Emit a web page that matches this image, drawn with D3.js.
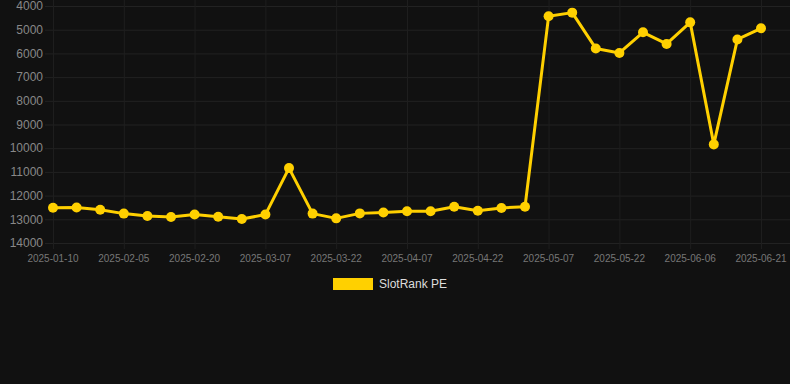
<!DOCTYPE html>
<html lang="en">
<head>
    <meta charset="UTF-8">
    <title>SlotRank PE</title>
    <script src="https://d3js.org/d3.v7.min.js"></script>
    <style>
        html, body { margin: 0; padding: 0; background: #111111; }
        svg { display: block; font-family: "Liberation Sans", Arial, sans-serif; }
    </style>
</head>
<body>
    <div id="chart"></div>
    <script>
        // categories (dates) and rank values
        var dates = [
            "2025-01-10", "2025-01-18", "2025-01-27", "2025-02-05", "2025-02-10", "2025-02-15",
            "2025-02-20", "2025-02-25", "2025-03-02", "2025-03-07", "2025-03-12", "2025-03-17",
            "2025-03-22", "2025-03-27", "2025-04-02", "2025-04-07", "2025-04-12", "2025-04-17",
            "2025-04-22", "2025-04-27", "2025-05-02", "2025-05-07", "2025-05-12", "2025-05-17",
            "2025-05-22", "2025-05-27", "2025-06-01", "2025-06-06", "2025-06-11", "2025-06-16",
            "2025-06-21"
        ];
        var rankValues = [
            12510, 12500, 12600, 12760, 12860, 12900,
            12800, 12890, 12990, 12800, 10840, 12760,
            12960, 12750, 12710, 12660, 12660, 12470,
            12640, 12520, 12470, 4435, 4280, 5790,
            5980, 5110, 5600, 4690, 9840, 5410,
            4940
        ];
        var yTicks = [4000, 5000, 6000, 7000, 8000, 9000, 10000, 11000, 12000, 13000, 14000];
        var seriesName = "SlotRank PE";

        var width = 790, height = 384;
        var gridLeft = 45, gridRight = 790;

        var svg = d3.select("#chart").append("svg")
            .attr("width", width)
            .attr("height", height);

        svg.append("rect")
            .attr("width", width)
            .attr("height", height)
            .attr("fill", "#111111");

        var x = d3.scalePoint()
            .domain(dates)
            .range([53, 761]);

        // reversed: better rank on top
        var y = d3.scaleLinear()
            .domain([4000, 14000])
            .range([6, 243]);

        var shownDates = dates.filter(function (d, i) { return i % 3 === 0; });

        // horizontal grid
        svg.append("g")
            .selectAll("line")
            .data(yTicks)
            .enter().append("line")
            .attr("x1", gridLeft)
            .attr("x2", gridRight)
            .attr("y1", function (d) { return y(d) + 0.5; })
            .attr("y2", function (d) { return y(d) + 0.5; })
            .attr("stroke", "#222222")
            .attr("stroke-width", 1);

        // vertical grid
        svg.append("g")
            .selectAll("line")
            .data(shownDates)
            .enter().append("line")
            .attr("x1", function (d) { return x(d) + 0.5; })
            .attr("x2", function (d) { return x(d) + 0.5; })
            .attr("y1", 0)
            .attr("y2", 249)
            .attr("stroke", "#1e1e1e")
            .attr("stroke-width", 1);

        // y axis labels
        svg.append("g")
            .selectAll("text")
            .data(yTicks)
            .enter().append("text")
            .attr("x", 43)
            .attr("y", function (d) { return y(d); })
            .attr("dy", "0.35em")
            .attr("text-anchor", "end")
            .attr("fill", "#888888")
            .style("font-size", "12px")
            .text(function (d) { return d; });

        // x axis labels
        svg.append("g")
            .selectAll("text")
            .data(shownDates)
            .enter().append("text")
            .attr("x", function (d) { return x(d); })
            .attr("y", 262)
            .attr("text-anchor", "middle")
            .attr("fill", "#777777")
            .style("font-size", "10px")
            .text(function (d) { return d; });

        var points = dates.map(function (d, i) { return { date: d, value: rankValues[i] }; });

        var line = d3.line()
            .x(function (d) { return x(d.date); })
            .y(function (d) { return y(d.value); });

        svg.append("path")
            .datum(points)
            .attr("d", line)
            .attr("fill", "none")
            .attr("stroke", "#FFD000")
            .attr("stroke-width", 3)
            .attr("stroke-linejoin", "round");

        svg.append("g")
            .selectAll("circle")
            .data(points)
            .enter().append("circle")
            .attr("cx", function (d) { return x(d.date); })
            .attr("cy", function (d) { return y(d.value); })
            .attr("r", 5)
            .attr("fill", "#FFD000");

        // legend
        var legend = svg.append("g").attr("transform", "translate(333,278)");
        legend.append("rect")
            .attr("width", 40)
            .attr("height", 12)
            .attr("fill", "#FFD000");
        legend.append("text")
            .attr("x", 46)
            .attr("y", 6)
            .attr("dy", "0.35em")
            .attr("fill", "#dddddd")
            .style("font-size", "12px")
            .text(seriesName);
    </script>
</body>
</html>
